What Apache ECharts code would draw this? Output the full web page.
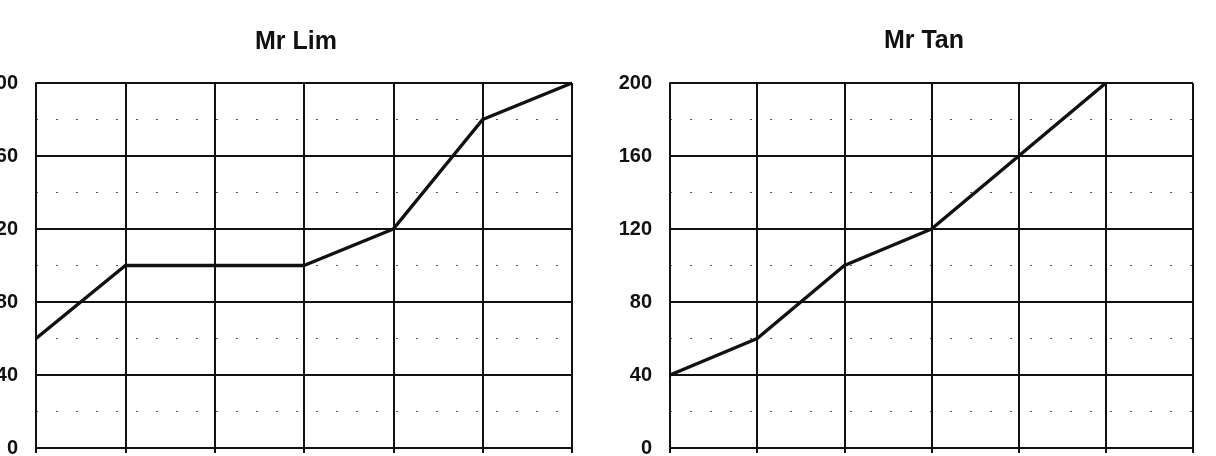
<!DOCTYPE html>
<html>
<head>
<meta charset="utf-8">
<script src="https://cdn.jsdelivr.net/npm/echarts@6/dist/echarts.min.js"></script>
<style>
  html, body { margin: 0; padding: 0; background: #ffffff; }
  #chart { width: 1216px; height: 456px; }
</style>
</head>
<body>
<div id="chart"></div>
<script>
// ---- data ----
const categories = ['1', '2', '3', '4', '5', '6', '7'];
const limValues = [60, 100, 100, 100, 120, 180, 200];
const tanValues = [40, 60, 100, 120, 160, 200, null];
const yTicks = [0, 40, 80, 120, 160, 200];
const titles = ['Mr Lim', 'Mr Tan'];

const chart = echarts.init(document.getElementById('chart'), null, { renderer: 'canvas' });

const ink = '#111111';
const font = '"Liberation Sans", Arial, sans-serif';

function xAxisFor(gridIndex) {
  return {
    type: 'category',
    gridIndex: gridIndex,
    data: categories,
    boundaryGap: false,
    axisLine: { show: true, lineStyle: { color: ink, width: 2 } },
    axisTick: { show: true, length: 5, lineStyle: { color: ink, width: 2 } },
    axisLabel: { show: false },
    splitLine: { show: true, lineStyle: { color: ink, width: 2 } }
  };
}

function yAxisFor(gridIndex) {
  return {
    type: 'value',
    gridIndex: gridIndex,
    min: yTicks[0],
    max: yTicks[yTicks.length - 1],
    interval: yTicks[1] - yTicks[0],
    axisLine: { show: true, lineStyle: { color: ink, width: 2 } },
    axisTick: { show: false },
    axisLabel: {
      show: true, margin: 18, color: ink,
      fontFamily: font, fontWeight: 'bold', fontSize: 20
    },
    splitLine: { show: true, lineStyle: { color: ink, width: 2 } },
    minorTick: { show: false, splitNumber: 2 },
    minorSplitLine: { show: true, lineStyle: { color: '#555', width: 1, type: [2, 18] } }
  };
}

const option = {
  backgroundColor: '#ffffff',
  animation: false,
  grid: [
    { left: 36, top: 83, width: 536, height: 365, containLabel: false, outerBoundsMode: 'none' },
    { left: 670, top: 83, width: 523, height: 365, containLabel: false, outerBoundsMode: 'none' }
  ],
  xAxis: [xAxisFor(0), xAxisFor(1)],
  yAxis: [yAxisFor(0), yAxisFor(1)],
  graphic: [
    { type: 'text', x: 296, y: 42, style: { text: titles[0], textAlign: 'center', textVerticalAlign: 'middle', fill: ink, font: 'bold 25px ' + font } },
    { type: 'text', x: 924, y: 41, style: { text: titles[1], textAlign: 'center', textVerticalAlign: 'middle', fill: ink, font: 'bold 25px ' + font } }
  ],
  series: [
    {
      type: 'line', xAxisIndex: 0, yAxisIndex: 0, data: limValues,
      symbol: 'none', lineStyle: { color: ink, width: 3.5 }, z: 5
    },
    {
      type: 'line', xAxisIndex: 1, yAxisIndex: 1, data: tanValues,
      symbol: 'none', lineStyle: { color: ink, width: 3.5 }, z: 5
    }
  ]
};

chart.setOption(option);
</script>
</body>
</html>
